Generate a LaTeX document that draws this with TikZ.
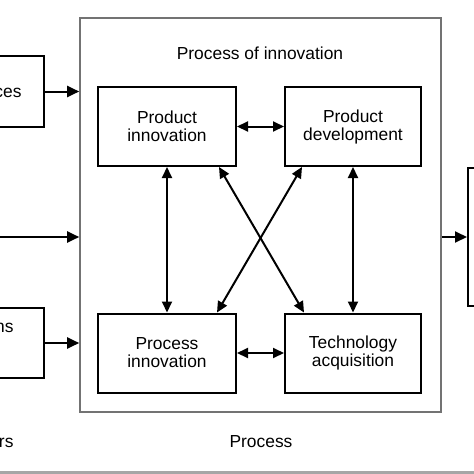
\documentclass[tikz,border=0pt]{standalone}
\usepackage{fontspec}
\setmainfont{Liberation Sans}
\usetikzlibrary{arrows.meta}
\begin{document}
\begin{tikzpicture}[x=1pt,y=-1pt,font=\fontsize{17.4}{18}\selectfont,
  stagebox/.style={draw,rectangle,line width=2pt,inner sep=0pt,align=center},
  inner/.style={stagebox,minimum width=138pt,minimum height=79pt},
  outer/.style={draw=black!55,rectangle,line width=1.6pt,inner sep=0pt},
  toproc/.style={line width=2pt,-{Triangle[length=12pt,width=11pt]}},
  both/.style={line width=2pt,{Triangle[length=11pt,width=10pt]}-{Triangle[length=11pt,width=10pt]}}]
\useasboundingbox (0,0) rectangle (474,474);
\clip (0,0) rectangle (474,474);
\node[outer,minimum width=361pt,minimum height=394pt] (proc) at (260.5,215) {};
\node[anchor=base] (title) at (260,59) {Process of innovation};
\node[inner] (pinno) at (167,126.5) {Product\\innovation};
\node[inner,minimum width=136pt] (pdev) at (353,126.5) {Product\\development};
\node[inner] (prinno) at (167,353) {Process\\innovation};
\node[inner,minimum width=136pt] (tacq) at (353,353) {Technology\\acquisition};
\draw[both] (pinno) -- (pdev);
\draw[both] (prinno) -- (tacq);
\draw[both] (pinno) -- (prinno);
\draw[both] (pdev) -- (tacq);
\draw[both] ([xshift=-18pt]pinno.south east) -- ([xshift=20pt]tacq.north west);
\draw[both] ([xshift=18pt]pdev.south west) -- ([xshift=-20pt]prinno.north east);
% inputs on the left
\node[stagebox,anchor=east,minimum width=100pt,minimum height=71pt] (src1) at (45,91.5) {};
\node[anchor=base east] (src1txt) at (25,97) {ces};
\coordinate (src2) at (0,237);
\node[stagebox,anchor=east,minimum width=100pt,minimum height=70pt] (src3) at (45,343) {};
\node[anchor=base east] (src3txt) at (17,332) {ns};
\node[anchor=base east] (src3dot) at (4,364) {.};
\draw[toproc] (src1.east) -- (src1.east -| proc.west);
\draw[toproc] (src2) -- (src2 -| proc.west);
\draw[toproc] (src3.east) -- (src3.east -| proc.west);
% output on the right
\node[stagebox,anchor=west,minimum width=40pt,minimum height=138pt] (outbox) at (467,237) {};
\draw[toproc] (outbox.west -| proc.east) -- (outbox.west);
% labels below
\node[anchor=base east] (actlbl) at (17,447) {ers};
\node[anchor=base] (proclbl) at (261,447) {Process};
\fill[black!35] (0,471) rectangle (474,474);
\end{tikzpicture}
\end{document}
